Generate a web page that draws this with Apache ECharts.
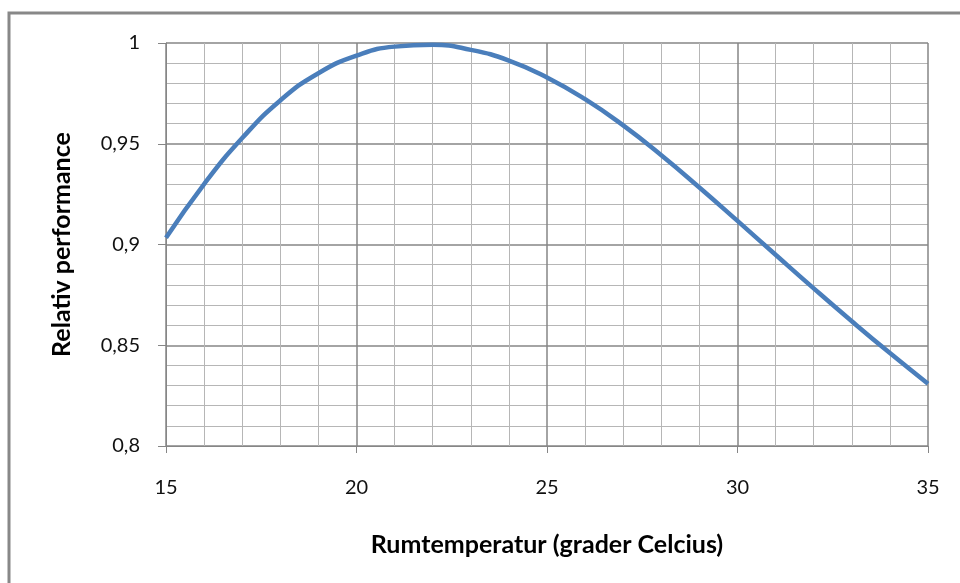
<!DOCTYPE html>
<html>
<head>
<meta charset="utf-8">
<script src="https://cdn.jsdelivr.net/npm/echarts@6/dist/echarts.min.js"></script>
<style>
  html, body { margin: 0; padding: 0; background: #fff; }
  #chart { width: 960px; height: 583px; }
</style>
</head>
<body>
<div id="chart"></div>
<script>
// one point per degree
var temps = [15, 16, 17, 18, 19, 20, 21, 22, 23, 24, 25, 26, 27, 28, 29, 30, 31, 32, 33, 34, 35]
var performance = [0.9033, 0.930, 0.9528, 0.9715, 0.985, 0.9937, 0.9982, 0.9991, 0.9966, 0.9913,
  0.9829, 0.9721, 0.9591, 0.9443, 0.9283, 0.9117, 0.8949, 0.8782, 0.8619, 0.8461, 0.8309]
var xTicks = [15, 20, 25, 30, 35]
var yTicks = [0.8, 0.85, 0.9, 0.95, 1]

var chart = echarts.init(document.getElementById('chart'))

var majorLine = '#868686'
var minorLine = '#b6b6b6'
var fontFamily = 'Lato, "Open Sans", sans-serif'

var option = {
  animation: false,
  backgroundColor: '#fff',
  graphic: [{
    // outer frame, only top and left edges are visible in the picture
    type: 'rect',
    shape: { x: 9, y: 13, width: 1200, height: 1200 },
    style: { fill: 'none', stroke: '#888', lineWidth: 3 },
    silent: true
  }],
  grid: {
    left: 166,
    right: 32,
    top: 43,
    bottom: 137
  },
  xAxis: {
    type: 'value',
    min: xTicks[0],
    max: xTicks[xTicks.length - 1],
    interval: 5,
    name: 'Rumtemperatur (grader Celcius)',
    nameLocation: 'middle',
    nameGap: 86,
    nameTextStyle: { fontFamily: fontFamily, fontSize: 25, fontWeight: 'bold', color: '#000' },
    axisLine: { lineStyle: { color: majorLine, width: 1 } },
    axisTick: { show: true, length: 7, lineStyle: { color: majorLine } },
    axisLabel: { fontFamily: fontFamily, fontSize: 20, color: '#111', margin: 32 },
    splitLine: { show: true, lineStyle: { color: majorLine, width: 1.5 } },
    minorTick: { show: false, splitNumber: 5 },
    minorSplitLine: { show: true, lineStyle: { color: minorLine, width: 1 } }
  },
  yAxis: {
    type: 'value',
    min: yTicks[0],
    max: yTicks[yTicks.length - 1],
    interval: 0.05,
    name: 'Relativ performance',
    nameLocation: 'middle',
    nameGap: 92,
    nameRotate: 90,
    nameTextStyle: { fontFamily: fontFamily, fontSize: 25, fontWeight: 'bold', color: '#000' },
    axisLine: { show: true, lineStyle: { color: majorLine, width: 1 } },
    axisTick: { show: true, length: 8, lineStyle: { color: majorLine } },
    axisLabel: {
      fontFamily: fontFamily,
      fontSize: 20,
      color: '#111',
      margin: 26,
      formatter: function (v) {
        return String(Math.round(v * 100) / 100).replace('.', ',')
      }
    },
    splitLine: { show: true, lineStyle: { color: majorLine, width: 1.5 } },
    minorTick: { show: false, splitNumber: 5 },
    minorSplitLine: { show: true, lineStyle: { color: minorLine, width: 1 } }
  },
  series: [{
    type: 'line',
    data: temps.map(function (t, i) { return [t, performance[i]] }),
    smooth: 0.5,
    showSymbol: false,
    lineStyle: { color: '#4a7ebb', width: 4.5 },
    itemStyle: { color: '#4a7ebb' }
  }]
}

chart.setOption(option)
</script>
</body>
</html>
